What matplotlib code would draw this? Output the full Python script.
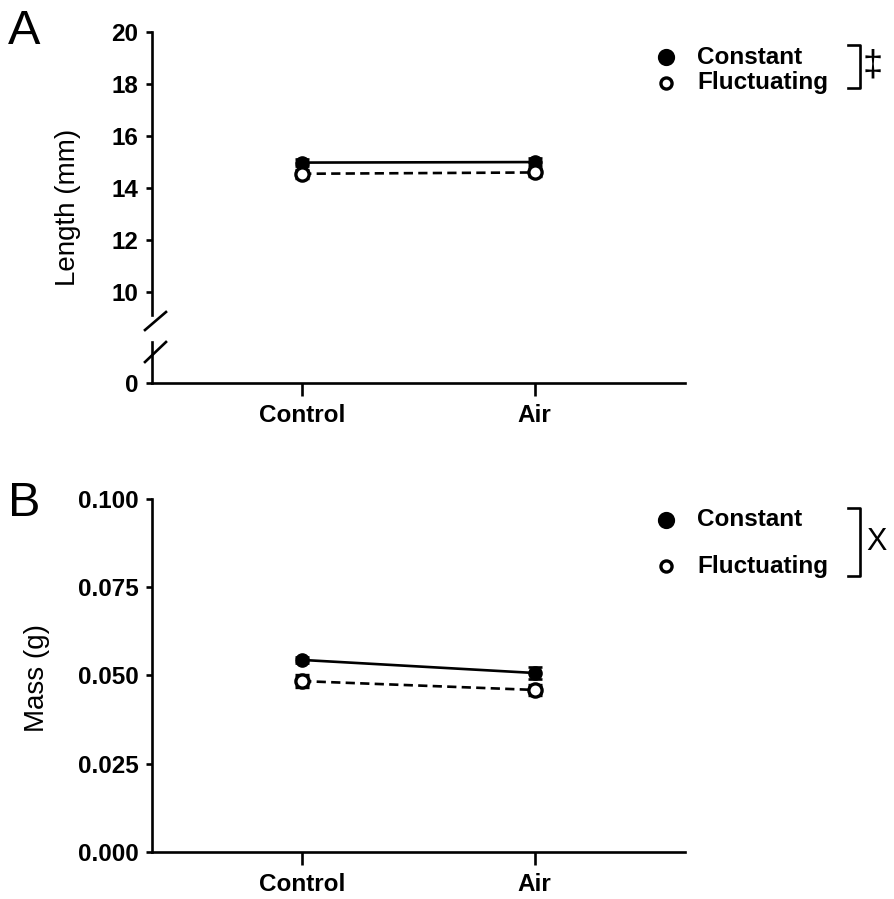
import matplotlib
matplotlib.use("Agg")
import matplotlib.pyplot as plt

plt.rcParams['font.family'] = ['Liberation Sans', 'DejaVu Sans']

# data
groups = ["Control", "Air"]
series = ["Constant", "Fluctuating"]

length_const = [14.98, 15.0]
length_const_err = [0.12, 0.15]
length_fluct = [14.55, 14.6]
length_fluct_err = [0.15, 0.15]

mass_const = [0.0544, 0.0507]
mass_const_err = [0.0008, 0.0017]
mass_fluct = [0.0484, 0.0459]
mass_fluct_err = [0.0018, 0.0014]

length_ticks = [10, 12, 14, 16, 18, 20]
mass_ticks = [0.000, 0.025, 0.050, 0.075, 0.100]
mass_ticklabels = ["0.000", "0.025", "0.050", "0.075", "0.100"]

LW = 1.9
FS = 17.5
XL = (-0.645, 1.645)
W, H = 895, 899


def style(ax):
    for s in ["top", "right"]:
        ax.spines[s].set_visible(False)
    for s in ["left", "bottom"]:
        ax.spines[s].set_linewidth(LW)
    ax.tick_params(axis="y", width=LW, length=4, labelsize=FS, direction="out", pad=6)
    ax.tick_params(axis="x", width=LW, length=9, labelsize=FS, direction="out", pad=6)
    ax.set_xlim(*XL)
    for lab in ax.get_yticklabels() + ax.get_xticklabels():
        lab.set_fontweight("bold")


def draw_series(ax, cy, ce, fy, fe):
    x = range(len(groups))
    ax.errorbar(x, cy, yerr=ce, color="black", lw=LW, marker="o", ms=9.5,
                mfc="black", mec="black", capsize=5, capthick=LW, elinewidth=LW,
                clip_on=False, zorder=3)
    ax.errorbar(x, fy, yerr=fe, color="black", lw=LW, ls=(0, (3.5, 2)),
                marker="o", ms=9.5, mfc="white", mec="black", mew=2.4,
                capsize=5, capthick=LW, elinewidth=LW, clip_on=False, zorder=4)


def legend(fig, y1, y2, ybr_top, ybr_bot, sym, sym_x, sym_fs):
    for yy, filled, name in [(y1, True, series[0]), (y2, False, series[1])]:
        fig.lines.append(plt.Line2D([666 / W], [1 - yy / H], transform=fig.transFigure,
                                    marker="o", ms=10 if filled else 8,
                                    mfc="black" if filled else "white",
                                    mec="black", mew=2.4, ls="none"))
        fig.text(697 / W, 1 - yy / H, name, fontsize=FS, fontweight="bold",
                 va="center", ha="left")
    xs = [848 / W, 860 / W, 860 / W, 848 / W]
    ys = [1 - ybr_top / H, 1 - ybr_top / H, 1 - ybr_bot / H, 1 - ybr_bot / H]
    fig.lines.append(plt.Line2D(xs, ys, transform=fig.transFigure, color="black", lw=LW))
    fig.text(sym_x / W, 1 - (ybr_top + ybr_bot) / 2 / H, sym, fontsize=sym_fs,
             va="center", ha="left")


fig = plt.figure(figsize=(8.95, 8.99), dpi=100)

# panel A, broken y axis
axA = fig.add_axes([0.170, 0.6496, 0.595, 0.3148])
axA0 = fig.add_axes([0.170, 0.574, 0.595, 0.0456])
for ax in (axA, axA0):
    ax.patch.set_alpha(0)
    draw_series(ax, length_const, length_const_err, length_fluct, length_fluct_err)

axA.set_ylim(9.12, 20)
axA.set_yticks(length_ticks)
axA0.set_ylim(0, 1)
axA0.set_yticks([0])
axA0.set_xticks(range(len(groups)))
axA0.set_xticklabels(groups)
for ax in (axA, axA0):
    style(ax)
axA.spines["bottom"].set_visible(False)
axA.tick_params(axis="x", bottom=False, labelbottom=False)

# break marks
for (x0, y0, x1, y1) in [(145, 330, 166, 312), (145, 362, 166, 342)]:
    fig.lines.append(plt.Line2D([x0 / W, x1 / W], [1 - y0 / H, 1 - y1 / H],
                                transform=fig.transFigure, color="black", lw=LW))

fig.text(68 / W, 1 - 207 / H, "Length (mm)", rotation=90, fontsize=20,
         va="center", ha="center")
fig.text(8 / W, 1 - 44 / H, "A", fontsize=35, va="baseline", ha="left")

# panel B
axB = fig.add_axes([0.170, 0.0523, 0.595, 0.3927])
draw_series(axB, mass_const, mass_const_err, mass_fluct, mass_fluct_err)
axB.set_ylim(0, 0.1)
axB.set_yticks(mass_ticks)
axB.set_yticklabels(mass_ticklabels)
axB.set_xticks(range(len(groups)))
axB.set_xticklabels(groups)
style(axB)
fig.text(37 / W, 1 - 678 / H, "Mass (g)", rotation=90, fontsize=20,
         va="center", ha="center")
fig.text(8 / W, 1 - 516 / H, "B", fontsize=35, va="baseline", ha="left")

legend(fig, 57, 83, 45, 88, "\u2021", 863, 26)
legend(fig, 520, 566, 508, 576, "X", 866, 22)

fig.savefig("out.png", dpi=100)
